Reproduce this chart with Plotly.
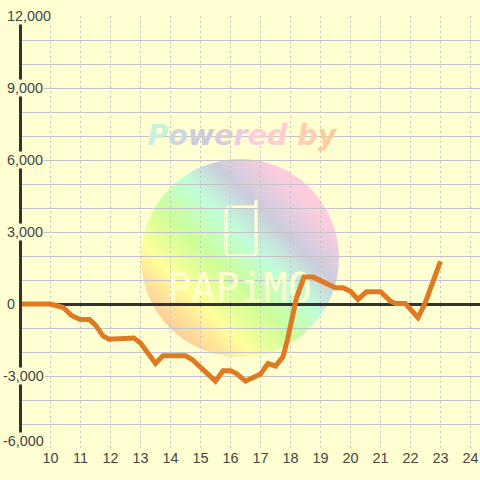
import base64
import plotly.graph_objects as go

hours = [8.93, 10.0, 10.43, 10.7, 10.97, 11.3, 11.5, 11.75, 11.95, 12.78, 13.0, 13.5, 13.75,
         14.5, 14.72, 15.5, 15.75, 16.0, 16.2, 16.5, 17.0, 17.25, 17.5, 17.75, 17.9, 18.0,
         18.2, 18.45, 18.75, 19.5, 19.75, 20.0, 20.25, 20.53, 21.0, 21.33, 21.5, 21.83,
         22.25, 22.47, 23.0]
values = [0, 0, -150, -480, -640, -650, -880, -1330, -1470, -1420, -1630, -2480, -2160,
          -2160, -2310, -3215, -2780, -2780, -2900, -3215, -2920, -2480, -2590, -2200, -1480, -850,
          250, 1120, 1120, 680, 680, 530, 190, 510, 510, 120, 20, 20,
          -570, -20, 1780]

x_ticks = list(range(10, 25))
y_grid = list(range(-6000, 13000, 1000))
y_labels = [12000, 9000, 6000, 3000, 0, -3000, -6000]
y_label_text = ["12,000", "9,000", "6,000", "3,000", "0", "-3,000", "-6,000"]

brand_letters = ["P", "o", "w", "e", "r", "e", "d", " ", "b", "y"]
brand_colors = ["#c6f2dc", "#cdd8de", "#ccccdd", "#dcccdc", "#eeccdd", "#ffccdd", "#ffccd2", "#ffccc0", "#ffcdb0", "#ffcc9c"]

BG = "#FFFFD2"
GRID = "#C4C4C8"
DARK = "#333333"
INK = "#444444"

svg = f"""<svg xmlns="http://www.w3.org/2000/svg" width="198" height="198" viewBox="0 0 198 198">
<defs><linearGradient id="g" gradientUnits="userSpaceOnUse" x1="29" y1="169" x2="169" y2="29">
<stop offset="0" stop-color="#FFCC99"/><stop offset="0.2" stop-color="#FFFF99"/>
<stop offset="0.4" stop-color="#CCFF99"/><stop offset="0.58" stop-color="#C0FFD8"/>
<stop offset="0.75" stop-color="#CCCCDD"/><stop offset="0.95" stop-color="#FFCCDD"/>
</linearGradient></defs>
<circle cx="99" cy="99" r="99" fill="url(#g)"/>
<path d="M90 48 H111 Q115 48 115 45 V42 M115 42 V92 Q115 97 110 97 H90 Q85 97 85 92 V53 Q85 48 90 48" fill="none" stroke="{BG}" stroke-width="3" stroke-linecap="round"/>
</svg>"""
uri = "data:image/svg+xml;base64," + base64.b64encode(svg.encode()).decode()

fig = go.Figure()
fig.add_trace(go.Scatter(
    x=[16.3], y=[480], mode="text", text=["PAPiMO"],
    textposition="middle center",
    textfont=dict(family="DejaVu Sans Mono", size=40, color="#FFFFCC"),
    hoverinfo="skip", showlegend=False, cliponaxis=False))
brand = "".join(f'<span style="color:{c}">{l}</span>' for l, c in zip(brand_letters, brand_colors))
fig.add_trace(go.Scatter(
    x=[16.38], y=[6920], mode="text", text=[brand],
    textposition="middle center",
    textfont=dict(family="DejaVu Sans", size=28.5, weight="bold", style="italic"),
    hoverinfo="skip", showlegend=False, cliponaxis=False))
fig.add_trace(go.Scatter(
    x=hours, y=values, mode="lines",
    line=dict(color="#DE7A22", width=5, shape="linear"),
    hoverinfo="skip", showlegend=False, cliponaxis=False))

L = 22
annotations = [dict(
    x=((1.5 if t.startswith("-") else 6) - L) / 458, xref="paper", y=v, yref="y",
    yshift=7 if v == min(y_labels) else 0,
    text=t, showarrow=False, xanchor="left", yanchor="middle",
    bgcolor=BG, borderpad=0, font=dict(family="Liberation Sans", size=14.4, color=INK))
    for v, t in zip(y_labels, y_label_text)]

fig.update_layout(
    width=480, height=480, autosize=False,
    margin=dict(l=L, r=0, t=16, b=32, pad=0),
    paper_bgcolor=BG, plot_bgcolor=BG,
    showlegend=False,
    annotations=annotations,
    images=[dict(source=uri, xref="x", yref="y", x=13.017, y=6042, sizex=6.6, sizey=8250,
                 xanchor="left", yanchor="top", sizing="stretch", layer="below", opacity=1)],
    xaxis=dict(range=[9.05, 24.317], tickvals=x_ticks, showgrid=True, gridcolor=GRID, gridwidth=1,
               griddash="2px,3px", zeroline=False, showline=False, ticks="",
               tickfont=dict(family="Liberation Sans", size=14.4, color=INK)),
    yaxis=dict(range=[-6000, 12000], tickvals=y_grid, showticklabels=False, showgrid=True,
               gridcolor=GRID, gridwidth=1, zeroline=True, zerolinecolor=DARK, zerolinewidth=3,
               showline=True, linecolor=DARK, linewidth=3, ticks=""),
)
fig.write_html("out.html", config={"displayModeBar": False},
               post_script="document.documentElement.style.margin='0';document.body.style.margin='0';document.body.style.overflow='hidden';")
